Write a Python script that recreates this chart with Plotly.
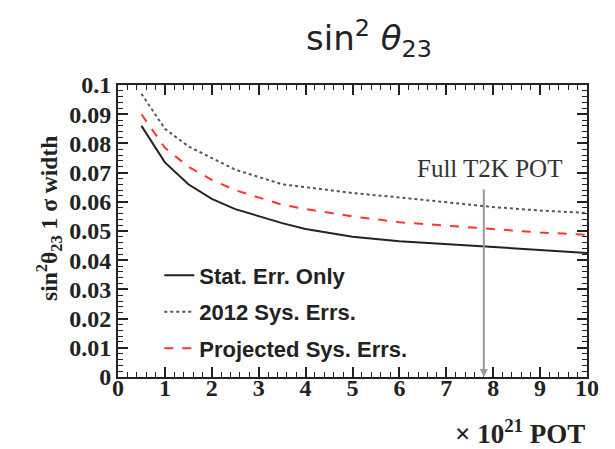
import plotly.graph_objects as go

pot = [0.5, 1, 1.5, 2, 2.5, 3, 3.5, 4, 5, 6, 7, 8, 9, 10]
stat_only = [0.086, 0.0735, 0.066, 0.061, 0.0575, 0.055, 0.0527, 0.0507, 0.048, 0.0465, 0.0455, 0.0445, 0.0435, 0.0425]
sys_2012 = [0.097, 0.085, 0.079, 0.075, 0.071, 0.0685, 0.066, 0.065, 0.063, 0.0615, 0.0598, 0.0582, 0.057, 0.0562]
sys_proj = [0.090, 0.0785, 0.072, 0.0675, 0.064, 0.0615, 0.059, 0.0575, 0.055, 0.053, 0.0518, 0.0505, 0.0495, 0.0487]
names = ["Stat. Err. Only", "2012 Sys. Errs.", "Projected Sys. Errs."]
full_pot = 7.8

serif = "Liberation Serif"
sans = "Liberation Sans"
ink = "#222222"

fig = go.Figure()
fig.add_trace(go.Scatter(x=pot, y=stat_only, mode="lines", name=names[0], legendgroup="a",
                         line=dict(color=ink, width=2)))
fig.add_trace(go.Scatter(x=pot, y=sys_2012, mode="lines", name=names[1], legendgroup="b",
                         line=dict(color="#555555", width=2, dash="dot")))
fig.add_trace(go.Scatter(x=pot, y=sys_proj, mode="lines", name=names[2], legendgroup="c",
                         line=dict(color="#ff3333", width=2, dash="dash")))

tickfont = dict(family=serif, size=24, color=ink, weight="bold")
axis_common = dict(showline=True, linecolor=ink, linewidth=2, mirror="ticks",
                   ticks="inside", tickcolor=ink, tickwidth=1.5, showgrid=False,
                   zeroline=False, tickfont=tickfont)

fig.update_xaxes(range=[0, 10], dtick=1, tick0=0, ticklen=10, ticklabelstandoff=-12,
                 minor=dict(dtick=0.2, ticklen=5, ticks="inside", tickcolor=ink, tickwidth=1.2),
                 **axis_common)
fig.update_yaxes(range=[0, 0.1], dtick=0.01, tick0=0, ticklen=10,
                 minor=dict(dtick=0.002, ticklen=5, ticks="inside", tickcolor=ink, tickwidth=1.2),
                 **axis_common)

fig.update_layout(
    width=615, height=449,
    margin=dict(l=118, r=28, t=85, b=72),
    paper_bgcolor="white", plot_bgcolor="white",
    showlegend=True,
    title=dict(text="sin<sup>2</sup> <i>θ</i><sub>23</sub>", x=369 / 615, xanchor="center",
               y=1 - 38 / 449, yanchor="middle",
               font=dict(family="DejaVu Sans", size=34, color=ink)),
    legend=dict(x=0.088, y=0.42, xanchor="left", yanchor="top", bgcolor="rgba(0,0,0,0)",
                font=dict(family=sans, size=22, color=ink, weight="bold"), tracegroupgap=5),
    annotations=[
        dict(x=full_pot, y=0.0, ax=full_pot, ay=0.0647, xref="x", yref="y", axref="x", ayref="y",
             showarrow=True, arrowhead=2, arrowsize=0.8, arrowwidth=2, arrowcolor="#999999", text=""),
        dict(x=7.93, y=0.0713, xref="x", yref="y", text="Full T2K POT", showarrow=False,
             font=dict(family=serif, size=25, color="#333333")),
        dict(x=(30 - 118) / 469, y=(377 - 219) / 292, xref="paper", yref="paper", showarrow=False,
             textangle=-90, text="sin<sup>2</sup>θ<sub>23</sub> 1 σ width",
             font=dict(family=serif, size=23.5, color=ink, weight="bold")),
        dict(x=1.0, y=-55 / 292, xref="paper", yref="paper", xanchor="right", yanchor="middle",
             showarrow=False, text="× 10<sup>21</sup> POT",
             font=dict(family=serif, size=27, color=ink, weight="bold")),
    ],
)
fig.write_html("out.html")
